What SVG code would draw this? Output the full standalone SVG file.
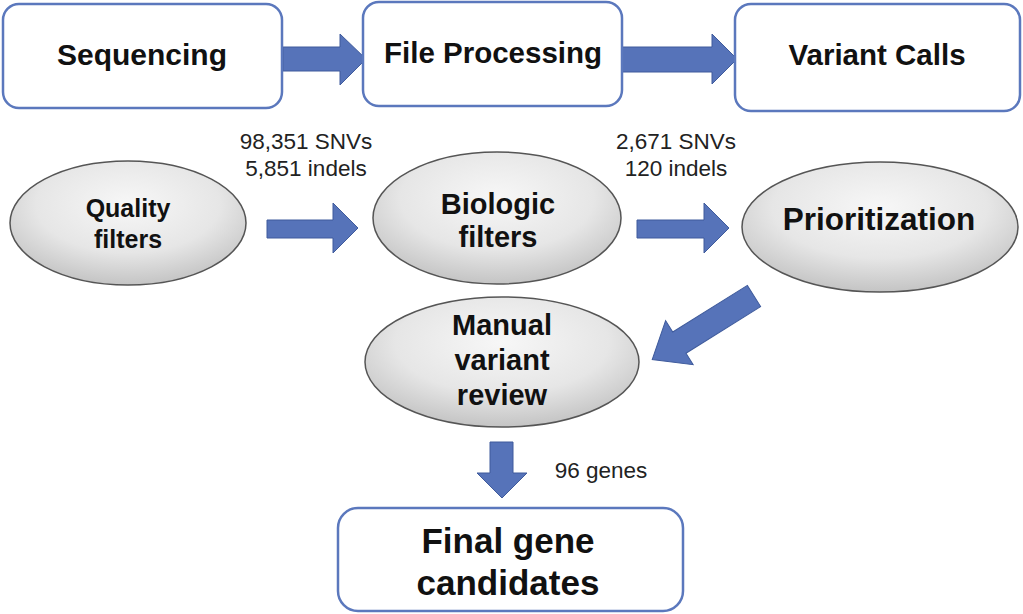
<svg xmlns="http://www.w3.org/2000/svg" width="1023" height="614" viewBox="0 0 1023 614">
<style>
.box{fill:#ffffff;stroke:#5b78bd;stroke-width:2.5}
.ell{fill:url(#eg);stroke:#555555;stroke-width:1.5}
.arr{fill:#5673b9;stroke:#3f5b9c;stroke-width:1}
.t{font-family:"Liberation Sans",Arial,sans-serif;font-weight:bold;fill:#111111;text-anchor:middle}
.l{font-family:"Liberation Sans",Arial,sans-serif;fill:#222222;text-anchor:middle;font-size:22.5px}
</style>
<defs>
<radialGradient id="eg" cx="50%" cy="35%" r="65%">
<stop offset="0" stop-color="#f7f7f7"/>
<stop offset="0.6" stop-color="#e6e6e6"/>
<stop offset="1" stop-color="#c4c4c4"/>
</radialGradient>
</defs>
<rect width="1023" height="614" fill="#ffffff"/>
<g id="connectors">
<polygon class="arr" points="283,47 340,47 340,34 366,59 340,85 340,71 283,71"/>
<polygon class="arr" points="622,47 712,47 712,34 737,59 712,84 712,72 622,72"/>
<polygon class="arr" points="267,220 333,220 333,203 358,228 333,253 333,238 267,238"/>
<polygon class="arr" points="637,220 704,220 704,203 729,228 704,253 704,238 637,238"/>
<polygon class="arr" transform="translate(754,296) rotate(148)" points="0,-12.5 88,-12.5 88,-26 120,0 88,26 88,12.5 0,12.5"/>
<polygon class="arr" points="490,442 513,442 513,473 527,473 502,498 477,473 490,473"/>
</g>
<g id="sequencing">
<rect class="box" x="3" y="4" width="279" height="104" rx="16"/>
<text class="t" x="142" y="65" font-size="30">Sequencing</text>
</g>
<g id="file-processing">
<rect class="box" x="363" y="2" width="259" height="104" rx="16"/>
<text class="t" x="493" y="63" font-size="29.5">File Processing</text>
</g>
<g id="variant-calls">
<rect class="box" x="735" y="4" width="285" height="107" rx="16"/>
<text class="t" x="877" y="65" font-size="29.5">Variant Calls</text>
</g>
<g id="quality-filters">
<ellipse class="ell" cx="128" cy="223" rx="118" ry="62"/>
<text class="t" x="128" y="217" font-size="25">Quality</text>
<text class="t" x="128" y="248" font-size="25">filters</text>
</g>
<g id="biologic-filters">
<ellipse class="ell" cx="497" cy="218" rx="124" ry="66"/>
<text class="t" x="498" y="214" font-size="29">Biologic</text>
<text class="t" x="498" y="247" font-size="29">filters</text>
</g>
<g id="prioritization">
<ellipse class="ell" cx="880" cy="227" rx="138" ry="65"/>
<text class="t" x="879" y="230" font-size="31.5">Prioritization</text>
</g>
<g id="manual-review">
<ellipse class="ell" cx="502" cy="362" rx="137" ry="65"/>
<text class="t" x="502" y="335" font-size="29">Manual</text>
<text class="t" x="502" y="370" font-size="29">variant</text>
<text class="t" x="502" y="405" font-size="29">review</text>
</g>
<g id="final-candidates">
<rect class="box" x="338" y="508" width="345" height="103" rx="20"/>
<text class="t" x="508" y="553" font-size="35">Final gene</text>
<text class="t" x="508" y="595" font-size="35">candidates</text>
</g>
<g id="labels">
<text class="l" x="306" y="149">98,351 SNVs</text>
<text class="l" x="306" y="176">5,851 indels</text>
<text class="l" x="676" y="149">2,671 SNVs</text>
<text class="l" x="676" y="176">120 indels</text>
<text class="l" x="601" y="478">96 genes</text>
</g>
</svg>
